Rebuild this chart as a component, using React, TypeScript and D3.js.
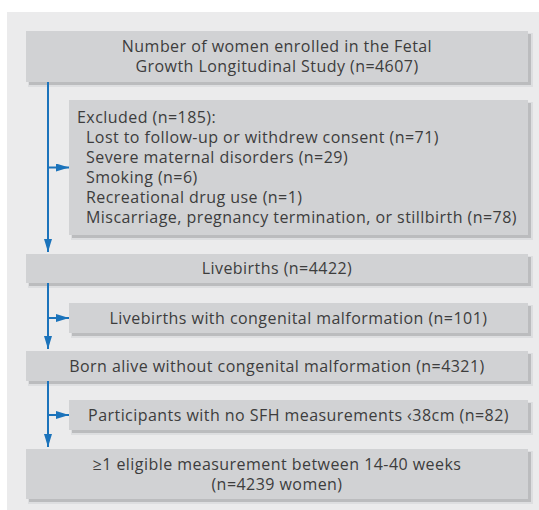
import * as d3 from 'd3';

// box texts, top to bottom
const mainBoxes: string[][] = [
  ['Number of women enrolled in the Fetal', 'Growth Longitudinal Study (n=4607)'],
  ['Livebirths (n=4422)'],
  ['Born alive without congenital malformation (n=4321)'],
  ['≥1 eligible measurement between 14-40 weeks', '(n=4239 women)'],
];

const excludedTitle = 'Excluded (n=185):';
const excludedItems = [
  'Lost to follow-up or withdrew consent (n=71)',
  'Severe maternal disorders (n=29)',
  'Smoking (n=6)',
  'Recreational drug use (n=1)',
  'Miscarriage, pregnancy termination, or stillbirth (n=78)',
];

const sideBoxes: string[][] = [
  [excludedTitle, ...excludedItems],
  ['Livebirths with congenital malformation (n=101)'],
  ['Participants with no SFH measurements ‹38cm (n=82)'],
];

const W = 539;
const H = 510;
const BG = '#ebebec';
const BOX = '#d1d2d4';
const SHADOW = '#bbbcbe';
const TEXT = '#3d3d3d';
const BLUE = '#1b73bb';
const FONT = "'Open Sans', sans-serif";
const FS = 16;
const LS = 0.45;
const LINE_H = 20;

type Box = { x0: number; x1: number; y0: number; y1: number; lines: string[]; side: boolean };

// vertical extents of the boxes, in flow order (main, side, main, side, ...)
const rows: [number, number][] = [
  [31, 82],
  [100, 235],
  [254, 283],
  [303, 333],
  [351, 381],
  [400, 430],
  [449, 499],
];

function layout(): Box[] {
  const order: { lines: string[]; side: boolean }[] = [];
  mainBoxes.forEach((m, i) => {
    order.push({ lines: m, side: false });
    if (sideBoxes[i]) order.push({ lines: sideBoxes[i], side: true });
  });
  return order.map((o, i) => ({
    x0: o.side ? 69 : 26,
    x1: 528,
    y0: rows[i][0],
    y1: rows[i][1],
    lines: o.lines,
    side: o.side,
  }));
}

export default function App() {
  const boxes = layout();
  const mains = boxes.filter((b) => !b.side);
  const sides = boxes.filter((b) => b.side);
  const ax = 48;
  const line = d3.line();

  return (
    <svg width={W} height={H} style={{ position: 'absolute', left: 0, top: 0 }}>
      <defs>
        <marker id="head" viewBox="0 0 13 8" refX={13} refY={4} markerWidth={13} markerHeight={8} markerUnits="userSpaceOnUse" orient="auto">
          <path d="M0,0 L13,4 L0,8 Z" fill={BLUE} />
        </marker>
      </defs>
      <rect x={7} y={12} width={W - 7} height={H - 12} fill={BG} />

      {boxes.map((b, i) => (
        <g key={i}>
          <rect x={b.x0 + 2} y={b.y0 + 2} width={b.x1 - b.x0 + 3} height={b.y1 - b.y0 + 3} fill="#dddee0" />
          <rect x={b.x0 + 3} y={b.y0 + 3} width={b.x1 - b.x0} height={b.y1 - b.y0} fill={SHADOW} />
          <rect x={b.x0} y={b.y0} width={b.x1 - b.x0} height={b.y1 - b.y0} fill={BOX} />
          {b.lines.length > 2
            ? b.lines.map((t, j) => (
                <text
                  key={j}
                  x={j === 0 ? b.x0 + 8 : b.x0 + 17}
                  y={b.y0 + 17 + j * LINE_H}
                  dy="0.35em"
                  fill={TEXT}
                  fontFamily={FONT}
                  fontSize={FS}
                  letterSpacing={LS}
                >
                  {t}
                </text>
              ))
            : b.lines.map((t, j) => (
                <text
                  key={j}
                  x={(b.x0 + b.x1) / 2}
                  y={(b.y0 + b.y1) / 2 + (j - (b.lines.length - 1) / 2) * LINE_H}
                  dy="0.35em"
                  textAnchor="middle"
                  fill={TEXT}
                  fontFamily={FONT}
                  fontSize={FS}
                  letterSpacing={LS}
                >
                  {t}
                </text>
              ))}
        </g>
      ))}

      {mains.slice(0, -1).map((b, i) => (
        <path
          key={'v' + i}
          d={line([[ax, b.y1], [ax, mains[i + 1].y0 - 2]]) ?? ''}
          stroke={BLUE}
          strokeWidth={2}
          fill="none"
          markerEnd="url(#head)"
        />
      ))}
      {sides.map((b, i) => (
        <path
          key={'h' + i}
          d={line([[ax, (b.y0 + b.y1) / 2], [b.x0, (b.y0 + b.y1) / 2]]) ?? ''}
          stroke={BLUE}
          strokeWidth={2}
          fill="none"
          markerEnd="url(#head)"
        />
      ))}
    </svg>
  );
}
